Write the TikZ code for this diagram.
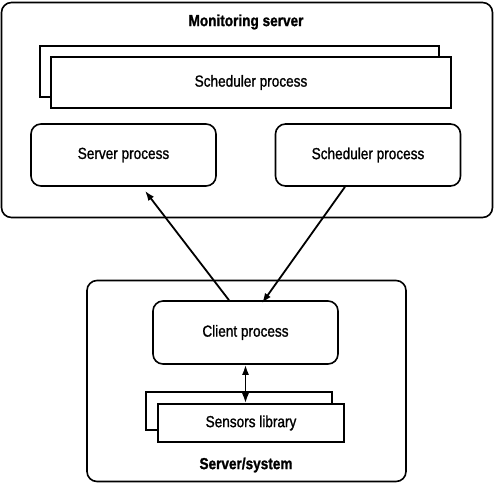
\documentclass[tikz,border=0pt]{standalone}
\usepackage{fontspec}
\setmainfont{Liberation Sans}[FakeStretch=0.85,FakeBold=1.2]
\usetikzlibrary{positioning,arrows.meta}
\tikzset{
	groupbox/.style={draw,rounded corners=10pt,line width=1.6pt},
	procbox/.style={draw,rounded corners=10pt,line width=1.6pt,fill=white,minimum width=185pt,minimum height=62pt},
	libbox/.style={draw,line width=1.6pt,fill=white},
	grouptitle/.style={font=\fontsize{16}{19}\selectfont\bfseries},
	link/.style={line width=1.8pt,-{Latex[length=10pt,width=7pt]}}
}
\begin{document}
\begin{tikzpicture}[x=1pt,y=-1pt,every node/.style={font=\fontsize{16}{19}\selectfont}]
				\useasboundingbox (0,0) rectangle (494,483);
				% monitoring server
				\node[groupbox,minimum width=491pt,minimum height=215pt] (monitor) at (247,110) {};
				\node[grouptitle] (montitle) at (246,22) {Monitoring server};
				\node[libbox,minimum width=399pt,minimum height=51pt] (schedback) at (239.5,71.5) {};
				\node[libbox,minimum width=400pt,minimum height=51pt] (schedstack) at (251,82.5) {Scheduler process};
				\node[procbox] (server) at (123.5,155) {Server process};
				\node[procbox] (sched) at (368,155) {Scheduler process};
				% server/system
				\node[groupbox,minimum width=319pt,minimum height=201pt] (system) at (246.5,381) {};
				\node[procbox,minimum height=63pt] (client) at (245.5,332.5) {Client process};
				\node[libbox,minimum width=186pt,minimum height=38pt] (sensback) at (239,411) {};
				\node[libbox,minimum width=186pt,minimum height=38pt] (sensors) at (251,423) {Sensors library};
				\node[grouptitle] (systitle) at (246,465) {Server/system};
				% links
				\draw[link] ([xshift=-16.5pt]client.north) -- ([xshift=21.5pt,yshift=-4pt]server.south);
				\draw[link] ([xshift=-23pt]sched.south) -- ([xshift=16.5pt,yshift=-3pt]client.north);
				\draw[link,{Latex[length=10pt,width=7pt]}-{Latex[length=10pt,width=7pt]}] (client.south) -- (client.south |- sensors.north);
			\end{tikzpicture}
\end{document}
